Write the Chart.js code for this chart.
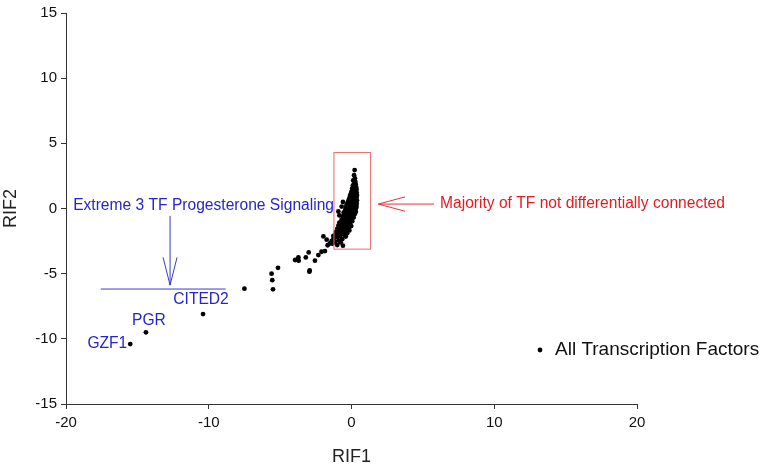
<!DOCTYPE html>
<html>
<head>
<meta charset="utf-8">
<script src="https://cdn.jsdelivr.net/npm/chart.js@4/dist/chart.umd.min.js"></script>
<style>
  html, body { margin: 0; padding: 0; background: #fff; }
  #wrap { width: 778px; height: 470px; position: relative; }
</style>
</head>
<body>
<div id="wrap"><canvas id="chart" width="778" height="470"></canvas></div>
<script>
// the three extreme factors (labelled)
let extremeNames = ['GZF1', 'PGR', 'CITED2'];
let extremeRif1 = [-15.5, -14.4, -10.4];
let extremeRif2 = [-10.4, -9.5, -8.1];

// all other transcription factors, [RIF1, RIF2]
let otherFactors = [
  [-7.5,-6.15],[-5.6,-5.0],[-5.55,-5.5],[-5.5,-6.2],[-5.15,-4.55],
  [-3.95,-3.95],[-3.7,-4.0],[-3.72,-3.75],[-3.2,-3.75],[-3.0,-3.37],[-2.56,-4.0],
  [-2.93,-4.75],[-2.95,-4.85],[-2.32,-3.57],[-2.1,-3.32],[-1.86,-3.27],
  [-1.97,-2.14],[-1.74,-2.39],[-1.67,-2.82],[-1.51,-2.67],[-1.39,-2.49],[-1.27,-2.11],[-1.22,-2.6],
  // dense band
  [0.22,2.95],[0.18,2.55],[0.24,2.3],[0.12,2.15],[0.27,2.05],[0.2,1.9],[0.3,1.85],[0.1,1.78],
  [0.22,1.7],[0.33,1.62],[0.15,1.6],[0.05,1.55],[0.25,1.5],[0.35,1.45],
  [0.18,1.42],[0.08,1.38],[0.28,1.35],[0.0,1.3],[0.2,1.25],[0.36,1.22],[0.12,1.18],[-0.05,1.12],
  [0.3,1.1],[0.22,1.05],[0.05,1.02],[0.38,1.0],[-0.1,0.98],[0.15,0.95],
  [0.28,0.92],[-0.02,0.9],[0.1,0.86],[0.35,0.84],[0.2,0.8],[-0.15,0.78],[0.05,0.75],[0.3,0.72],
  [-0.08,0.68],[0.15,0.66],[0.38,0.63],[0.0,0.6],[-0.22,0.58],[0.25,0.56],[0.1,0.52],[-0.12,0.5],
  [0.32,0.47],[0.02,0.45],[-0.28,0.43],[0.18,0.4],[-0.05,0.37],[0.36,0.35],[-0.18,0.32],[0.1,0.3],
  [0.26,0.26],[-0.35,0.24],[-0.02,0.22],[0.15,0.18],[-0.25,0.15],[0.35,0.12],[0.05,0.1],[-0.12,0.07],
  [0.22,0.04],[-0.4,0.02],[-0.05,0.0],[0.3,-0.02],
  [0.12,-0.05],[-0.3,-0.08],[-0.15,-0.12],[0.2,-0.15],[-0.45,-0.18],[0.02,-0.2],[-0.25,-0.24],
  [0.3,-0.26],[-0.08,-0.3],[-0.55,-0.32],[0.12,-0.35],[-0.35,-0.38],[-0.18,-0.42],[0.22,-0.45],
  [-0.02,-0.48],[-0.48,-0.5],
  [-0.28,-0.54],[0.08,-0.58],[-0.62,-0.6],[-0.12,-0.63],[-0.4,-0.68],[0.15,-0.7],[-0.22,-0.74],
  [-0.55,-0.78],[0.0,-0.82],[-0.33,-0.85],[-0.7,-0.88],[-0.1,-0.92],[-0.48,-0.95],[0.05,-0.98],
  [-0.25,-1.02],[-0.62,-1.05],[-0.85,-1.08],[-0.4,-1.12],[-0.12,-1.16],[-0.55,-1.2],[-0.75,-1.25],
  [-0.3,-1.28],[-0.92,-1.32],[-0.02,-1.35],[-0.48,-1.4],[-0.65,-1.44],[-0.2,-1.48],
  [-0.82,-1.52],[-1.0,-1.56],[-0.38,-1.6],[-0.6,-1.64],[-0.15,-1.68],[-0.9,-1.72],[-0.5,-1.76],
  [-1.1,-1.8],[-0.72,-1.85],[-0.3,-1.9],[-0.95,-1.95],
  [-0.55,-2.0],[-1.15,-2.05],[-0.8,-2.1],[-0.4,-2.15],[-1.0,-2.2],[-1.25,-2.3],[-0.65,-2.35],
  [-0.9,-2.45],[-1.15,-2.55],[-0.75,-2.6],[-1.35,-2.7],[-1.0,-2.8],[-0.6,-2.85],
  [-0.92,-0.23],[-0.85,-0.53],[-0.69,0.15],[-0.6,0.5]
];

let xTicks = [-20, -10, 0, 10, 20];
let yTicks = [-15, -10, -5, 0, 5, 10, 15];

let points = [];
extremeNames.forEach(function(name, i){
    points.push({x: extremeRif1[i], y: extremeRif2[i]});
});
otherFactors.forEach(function(p){
    points.push({x: p[0], y: p[1]});
});

let font = '"Liberation Sans", Arial, sans-serif';

/* arrows, box, texts and the legend */
let annotations = {
    id: 'annotations',
    afterDatasetsDraw: function(chart){
        let ctx = chart.ctx;
        let xs = chart.scales.x, ys = chart.scales.y;
        let X = function(v){ return xs.getPixelForValue(v); };
        let Y = function(v){ return ys.getPixelForValue(v); };
        ctx.save();

        // red box round the main cluster
        ctx.strokeStyle = '#e8686b';
        ctx.lineWidth = 1;
        ctx.strokeRect(X(-1.23), Y(4.29), X(1.34) - X(-1.23), Y(-3.12) - Y(4.29));

        // red arrow + text
        ctx.strokeStyle = '#e8323a';
        ctx.beginPath();
        ctx.moveTo(X(5.78), Y(0.34)); ctx.lineTo(X(1.88), Y(0.34));
        ctx.moveTo(X(3.75), Y(0.89)); ctx.lineTo(X(1.88), Y(0.34)); ctx.lineTo(X(3.75), Y(-0.21));
        ctx.stroke();
        ctx.fillStyle = '#e8191f';
        ctx.font = '15.6px ' + font;
        ctx.textAlign = 'left';
        ctx.textBaseline = 'middle';
        ctx.fillText('Majority of TF not differentially connected', X(6.2), Y(0.34));

        // blue text, arrow and bar
        ctx.fillStyle = '#2626c8';
        ctx.fillText('Extreme 3 TF Progesterone Signaling', X(-19.5), Y(0.19));
        ctx.strokeStyle = '#3a3ad0';
        ctx.beginPath();
        ctx.moveTo(X(-12.71), Y(-0.56)); ctx.lineTo(X(-12.71), Y(-5.88));
        ctx.moveTo(X(-13.2), Y(-3.75)); ctx.lineTo(X(-12.71), Y(-5.88)); ctx.lineTo(X(-12.22), Y(-3.75));
        ctx.moveTo(X(-17.56), Y(-6.18)); ctx.lineTo(X(-8.81), Y(-6.18));
        ctx.stroke();

        // point labels
        let meta = chart.getDatasetMeta(0);
        let g = meta.data[0], p = meta.data[1], c = meta.data[2];
        ctx.textAlign = 'right';
        ctx.fillText(extremeNames[0], g.x - 3, g.y);
        ctx.textAlign = 'center';
        ctx.fillText(extremeNames[1], p.x + 3, p.y - 12);
        ctx.fillText(extremeNames[2], c.x - 2, c.y - 14);

        // legend
        ctx.fillStyle = '#000';
        ctx.beginPath();
        ctx.arc(540, 350, 2.4, 0, Math.PI * 2);
        ctx.fill();
        ctx.textAlign = 'left';
        ctx.fillStyle = '#111';
        ctx.font = '19px ' + font;
        ctx.fillText('All Transcription Factors', 555, 350);
        ctx.restore();
    }
};

new Chart(document.getElementById('chart'), {
    type: 'scatter',
    data: {
        datasets: [{
            label: 'All Transcription Factors',
            data: points,
            backgroundColor: '#000',
            borderWidth: 0,
            pointRadius: 2.4,
            pointHoverRadius: 2.4
        }]
    },
    options: {
        responsive: false,
        animation: false,
        devicePixelRatio: 1,
        layout: { padding: { top: 6, right: 141, left: 0, bottom: 0 } },
        plugins: { legend: { display: false }, tooltip: { enabled: false } },
        scales: {
            x: {
                type: 'linear', min: -20, max: 20,
                afterBuildTicks: function(s){ s.ticks = xTicks.map(function(v){ return {value: v}; }); },
                afterFit: function(s){ s.height = 66; },
                grid: { display: true, drawOnChartArea: false, drawTicks: true, tickLength: 5, color: '#333' },
                border: { display: true, color: '#333', width: 1 },
                ticks: { color: '#111', font: { family: font, size: 15 }, padding: 5, maxRotation: 0 },
                title: { display: true, text: 'RIF1', color: '#222', font: { family: font, size: 18 }, padding: { top: 4, bottom: 2 } }
            },
            y: {
                type: 'linear', min: -15, max: 15,
                afterBuildTicks: function(s){ s.ticks = yTicks.map(function(v){ return {value: v}; }); },
                afterFit: function(s){ s.width = 66; },
                grid: { display: true, drawOnChartArea: false, drawTicks: true, tickLength: 5, color: '#333' },
                border: { display: true, color: '#333', width: 1 },
                ticks: { color: '#111', font: { family: font, size: 15 }, padding: 4 },
                title: { display: true, text: 'RIF2', color: '#222', font: { family: font, size: 18 }, padding: { top: 0, bottom: 4 } }
            }
        }
    },
    plugins: [annotations]
});
</script>
</body>
</html>
